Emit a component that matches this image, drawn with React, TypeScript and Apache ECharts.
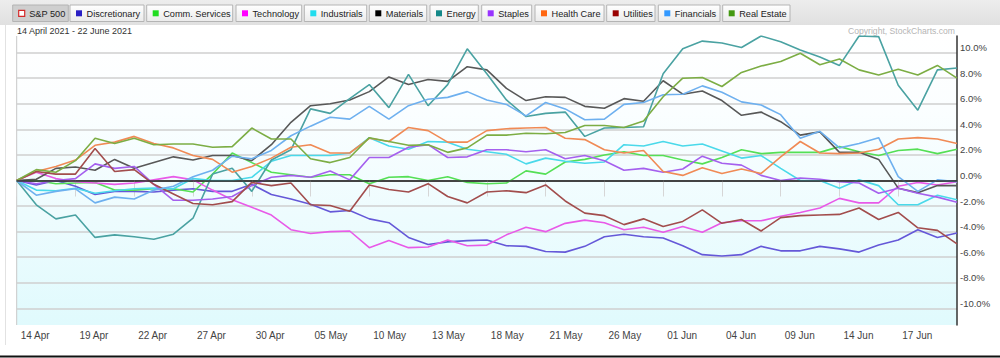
import React, { useEffect, useRef } from 'react';
import * as echarts from 'echarts';

const dates = [
  '14 Apr', '15 Apr', '16 Apr', '19 Apr', '20 Apr', '21 Apr', '22 Apr', '23 Apr', '26 Apr', '27 Apr', '28 Apr', '29 Apr', '30 Apr',
  '03 May', '04 May', '05 May', '06 May', '07 May', '10 May', '11 May', '12 May', '13 May', '14 May', '17 May', '18 May',
  '19 May', '20 May', '21 May', '24 May', '25 May', '26 May', '27 May', '28 May',
  '01 Jun', '02 Jun', '03 Jun', '04 Jun', '07 Jun', '08 Jun', '09 Jun', '10 Jun', '11 Jun', '14 Jun', '15 Jun', '16 Jun',
  '17 Jun', '18 Jun', '21 Jun', '22 Jun',
];

const legendNames = ['S&P 500', 'Discretionary', 'Comm. Services', 'Technology', 'Industrials', 'Materials', 'Energy', 'Staples', 'Health Care', 'Utilities', 'Financials', 'Real Estate'];
const legendSwatches = ['#ffffff', '#2a1fc4', '#22dd22', '#ff00ff', '#22ddee', '#000000', '#148888', '#9933ff', '#ff6611', '#990000', '#3399ff', '#449911'];

const discretionary = [0, -0.35, 0, -0.45, -1.1, -0.85, -0.85, -0.9, -0.75, -0.65, -0.85, -0.85, -0.3, -1.1, -1.45, -1.85, -2.45, -2.35, -3.0, -3.3, -4.45, -5.0, -4.8, -4.7, -4.65, -5.1, -5.15, -5.55, -5.6, -5.15, -4.4, -4.2, -4.4, -4.5, -5.1, -5.8, -5.9, -5.8, -5.15, -5.5, -5.5, -5.15, -5.35, -5.6, -5.05, -4.65, -3.85, -4.45, -4.1];
const commServices = [0, 0, -0.25, -0.2, -0.15, -0.75, -0.75, -0.65, -0.65, -0.9, 0.5, 2.15, 1.4, 0.65, 0.45, 0.25, 0.45, 0.45, -0.25, 0.25, 0.3, 0, 0.3, -0.15, -0.25, -0.2, 0.75, 0.5, 1.45, 1.65, 2.0, 2.25, 1.95, 1.95, 1.6, 1.3, 1.8, 2.4, 2.1, 2.2, 2.2, 2.2, 2.65, 2.25, 1.95, 2.35, 2.45, 2.1, 2.45];
const technology = [0, 0.65, 0.15, -0.1, -0.2, -0.3, -0.2, 0.05, 0.3, 0.05, -0.75, -1.5, -2.1, -2.7, -3.85, -4.15, -4.0, -3.95, -5.25, -4.7, -5.25, -5.2, -4.65, -5.1, -5.05, -4.25, -3.65, -4.0, -3.35, -3.1, -3.3, -3.85, -3.65, -4.05, -3.6, -4.05, -3.3, -3.15, -3.15, -2.8, -2.5, -2.15, -1.4, -1.75, -1.75, -0.45, -0.15, -0.35, -0.1];
const industrials = [0, -0.75, -0.8, -0.6, -1.0, -0.8, -0.65, -0.6, -0.65, 0.15, 0, 0, 0.25, 1.5, 1.95, 1.95, 1.95, 2.15, 3.35, 2.7, 2.45, 3.05, 3.0, 2.45, 2.25, 2.05, 1.3, 1.75, 1.5, 1.35, 1.45, 2.8, 2.7, 3.05, 2.7, 2.85, 2.3, 1.75, 1.95, 0.95, 0, 0, -0.6, 0.05, -0.4, -1.9, -1.9, -1.15, -1.5];
const materials = [0, 0.1, 0.95, 1.05, 0.8, 1.65, 0.95, 1.4, 1.85, 1.6, 1.95, 1.95, 1.55, 2.8, 4.55, 5.85, 6.0, 6.3, 6.95, 8.1, 7.5, 7.9, 7.75, 8.9, 8.65, 7.2, 6.25, 6.55, 6.5, 5.8, 5.65, 6.4, 6.2, 7.8, 6.75, 7.0, 6.25, 5.1, 5.35, 4.6, 3.55, 3.8, 2.2, 2.2, 1.65, -0.6, -0.95, -0.4, -0.4];
const energy = [0, -1.9, -3.0, -2.7, -4.45, -4.25, -4.4, -4.6, -4.2, -2.95, 0.5, 0.95, -0.85, 1.6, 2.4, 5.6, 5.25, 6.4, 7.5, 5.7, 8.3, 5.85, 7.5, 10.3, 8.35, 6.3, 5.0, 5.25, 5.35, 3.45, 4.1, 4.15, 4.2, 8.35, 10.3, 10.9, 10.75, 10.4, 11.3, 10.85, 10.2, 9.65, 9.0, 11.3, 11.25, 7.45, 5.5, 8.65, 8.8];
const staples = [0, -0.25, 0, 0.15, 1.3, 0.95, 1.1, -0.3, -1.55, -1.55, -1.45, -1.25, -0.4, 0.25, 0.4, 0.25, 0.75, 0.05, 1.8, 1.8, 2.6, 2.8, 1.8, 1.85, 2.4, 2.4, 2.25, 2.4, 1.7, 1.95, 1.55, 0.8, 0.95, 0.65, 0.9, 1.9, 1.35, 1.2, 0.4, 0, 0.2, 0.1, -0.1, -0.2, -1.0, -0.6, -1.0, -1.3, -1.7];
const healthCare = [0, 0.7, 1.1, 1.6, 2.75, 3.0, 3.45, 2.9, 2.55, 1.95, 1.65, 0.65, 1.1, 1.75, 2.6, 2.8, 2.15, 2.15, 3.3, 3.05, 4.15, 3.9, 3.0, 3.0, 3.9, 4.05, 4.1, 4.15, 3.3, 3.2, 2.4, 2.15, 2.35, 0.7, 0.4, 1.0, 0.55, 0.9, 0.55, 1.85, 3.05, 2.15, 2.1, 2.15, 2.45, 3.25, 3.35, 3.25, 2.9];
const utilities = [0, 0.7, 0.5, 0.5, 2.5, 0.7, 0.85, -0.3, -1.05, -1.8, -1.9, -1.65, -0.15, -0.4, -0.2, -1.9, -1.95, -2.4, -0.35, -0.7, -0.9, -0.25, -1.25, -1.75, -0.9, -0.8, -0.95, -0.35, -1.6, -2.55, -2.75, -3.45, -3.0, -3.6, -3.2, -2.3, -3.35, -3.05, -3.95, -2.9, -2.75, -2.7, -2.65, -2.15, -3.05, -2.5, -3.7, -3.9, -4.95];
const financials = [0, -1.15, -0.85, -0.65, -1.75, -1.3, -1.45, -0.75, -0.45, 0.3, 0.8, 1.9, 1.7, 2.35, 3.5, 4.25, 4.95, 4.8, 5.8, 4.8, 5.85, 6.35, 6.5, 6.95, 6.3, 5.95, 5.05, 6.1, 5.6, 4.75, 4.8, 5.95, 6.1, 6.7, 6.75, 7.4, 6.9, 6.15, 5.9, 5.15, 3.3, 3.85, 2.55, 2.9, 3.35, 0.3, -0.85, 0.05, -0.1];
const realEstate = [0, 0.85, 0.65, 1.55, 3.3, 2.9, 3.3, 2.8, 2.85, 2.85, 2.6, 2.65, 4.1, 3.25, 3.25, 1.7, 1.4, 1.8, 3.35, 3.05, 2.75, 2.8, 2.2, 2.55, 3.55, 3.55, 3.7, 3.65, 3.75, 4.3, 4.3, 4.15, 4.65, 6.55, 8.0, 8.05, 7.35, 8.45, 8.95, 9.3, 9.95, 9.05, 9.5, 8.65, 8.25, 8.7, 8.25, 9.0, 8.0];

const sectorSeries = [discretionary, commServices, technology, industrials, materials, energy, staples, healthCare, utilities, financials, realEstate];
const lineColors = ['#6558d8', '#55df55', '#e85ae8', '#4ad9ea', '#585858', '#4aa2a2', '#a560ee', '#f08a55', '#a24d4d', '#6eb0ef', '#7cad44'];

const FONT = '"Liberation Sans", Arial, sans-serif';

// legend button layout (pixel positions)
const btnX = [12.7, 70, 146.7, 236, 304.3, 369.3, 430, 481.7, 535, 606.7, 658.3, 722.7];
const btnW = [55.6, 74, 86, 65.7, 62.4, 57.4, 48.3, 50, 69, 48.3, 61.7, 67.3];

export default function App() {
  const ref = useRef<HTMLDivElement>(null);

  useEffect(() => {
    const chart = echarts.init(ref.current!, null, { renderer: 'svg' });

    const legendGraphics: any[] = legendNames.map((name, i) => {
      const pressed = i === 0;
      return {
        type: 'group',
        x: btnX[i],
        y: 5,
        children: [
          {
            type: 'rect',
            shape: { x: 0, y: 0, width: btnW[i], height: 16.5 },
            style: {
              fill: pressed
                ? '#cfcfcf'
                : new echarts.graphic.LinearGradient(0, 0, 0, 1, [
                    { offset: 0, color: '#ffffff' },
                    { offset: 1, color: '#ebebeb' },
                  ]),
              stroke: '#b4b4b4',
              lineWidth: 1,
            },
          },
          {
            type: 'rect',
            shape: { x: 6, y: 5.3, width: 6, height: 6 },
            style: pressed
              ? { fill: '#ffffff', stroke: '#d42a2a', lineWidth: 1.2 }
              : { fill: legendSwatches[i] },
          },
          {
            type: 'text',
            x: 16.5,
            y: 8.6,
            style: {
              text: name,
              fontSize: 9.2,
              fontFamily: FONT,
              fill: '#222',
              verticalAlign: 'middle',
              align: 'left',
            },
          },
        ],
      };
    });

    const option: any = {
      animation: false,
      backgroundColor: '#ffffff',
      textStyle: { fontFamily: FONT },
      grid: {
        left: 16.7,
        right: 43,
        top: 36,
        bottom: 33,
        show: true,
        borderWidth: 0,
        backgroundColor: new echarts.graphic.LinearGradient(0, 0, 0, 1, [
          { offset: 0, color: '#ffffff' },
          { offset: 0.25, color: '#fbfeff' },
          { offset: 1, color: '#e0fafd' },
        ]),
        containLabel: false,
        outerBoundsMode: 'none',
      },
      xAxis: {
        type: 'category',
        data: dates,
        boundaryGap: false,
        axisLine: { show: true, lineStyle: { color: '#555', width: 1.5 } },
        axisTick: {
          show: true,
          length: 16,
          interval: (idx: number) => idx % 3 === 0 && idx < dates.length - 1,
          lineStyle: { color: '#d6d6d6', width: 1 },
        },
        axisLabel: {
          interval: (idx: number) => idx % 3 === 0 && idx < dates.length - 1,
          align: 'left',
          padding: [0, 0, 0, 4],
          margin: 5,
          fontSize: 10,
          color: '#444',
          fontFamily: FONT,
        },
        splitLine: { show: false },
      },
      yAxis: {
        type: 'value',
        position: 'right',
        min: -11.3,
        max: 11.3,
        minInterval: 2,
        maxInterval: 2,
        axisLine: { show: true, lineStyle: { color: '#333', width: 1.5 } },
        axisTick: { show: false },
        axisLabel: {
          margin: 3,
          fontSize: 9.5,
          color: '#444',
          verticalAlign: 'bottom',
          fontFamily: FONT,
          formatter: (v: number) => {
            const r = Math.round(v * 100) / 100;
            return Math.abs(r % 2) < 1e-6 ? r.toFixed(1) + '%' : '';
          },
        },
        splitLine: {
          show: true,
          showMinLine: false,
          showMaxLine: false,
          lineStyle: { color: '#cfcfcf', width: 1.5 },
        },
      },
      series: sectorSeries.map((data, i) => ({
        name: legendNames[i + 1],
        type: 'line',
        data,
        symbol: 'none',
        lineStyle: { color: lineColors[i], width: 1.6 },
        itemStyle: { color: lineColors[i] },
        z: 2,
        ...(i === 0
          ? {
              markLine: {
                silent: true,
                symbol: ['none', 'none'],
                label: { show: false },
                lineStyle: { color: '#333', width: 1.5, type: 'solid' },
                data: [{ yAxis: 0 }],
              },
            }
          : {}),
      })),
      graphic: [
        {
          type: 'rect',
          z: -1,
          shape: { x: 0, y: 0, width: 1000, height: 25 },
          style: {
            fill: new echarts.graphic.LinearGradient(0, 0, 0, 1, [
              { offset: 0, color: '#ededed' },
              { offset: 1, color: '#e0e0e0' },
            ]),
          },
        },
        ...legendGraphics,
        {
          type: 'text',
          x: 17,
          y: 31,
          style: { text: '14 April 2021 - 22 June 2021', fontSize: 9, fill: '#333', fontFamily: FONT, verticalAlign: 'middle' },
        },
        {
          type: 'text',
          x: 955,
          y: 30.5,
          style: { text: 'Copyright, StockCharts.com', fontSize: 8.6, fill: '#b5b5b5', fontFamily: FONT, align: 'right', verticalAlign: 'middle' },
        },
        {
          type: 'line',
          shape: { x1: 16.7, y1: 36, x2: 16.7, y2: 325 },
          style: { stroke: '#c8c8c8', lineWidth: 1 },
        },
        {
          type: 'line',
          shape: { x1: 5.5, y1: 25, x2: 5.5, y2: 345 },
          style: { stroke: '#e2e2e2', lineWidth: 1 },
        },
        {
          type: 'line',
          shape: { x1: 0, y1: 356.5, x2: 1000, y2: 356.5 },
          style: { stroke: '#111', lineWidth: 2 },
        },
      ],
    };

    chart.setOption(option);
    return () => chart.dispose();
  }, []);

  return (
    <div
      ref={ref}
      style={{ position: 'absolute', left: 0, top: 0, width: 1000, height: 358, background: '#fff' }}
    />
  );
}
